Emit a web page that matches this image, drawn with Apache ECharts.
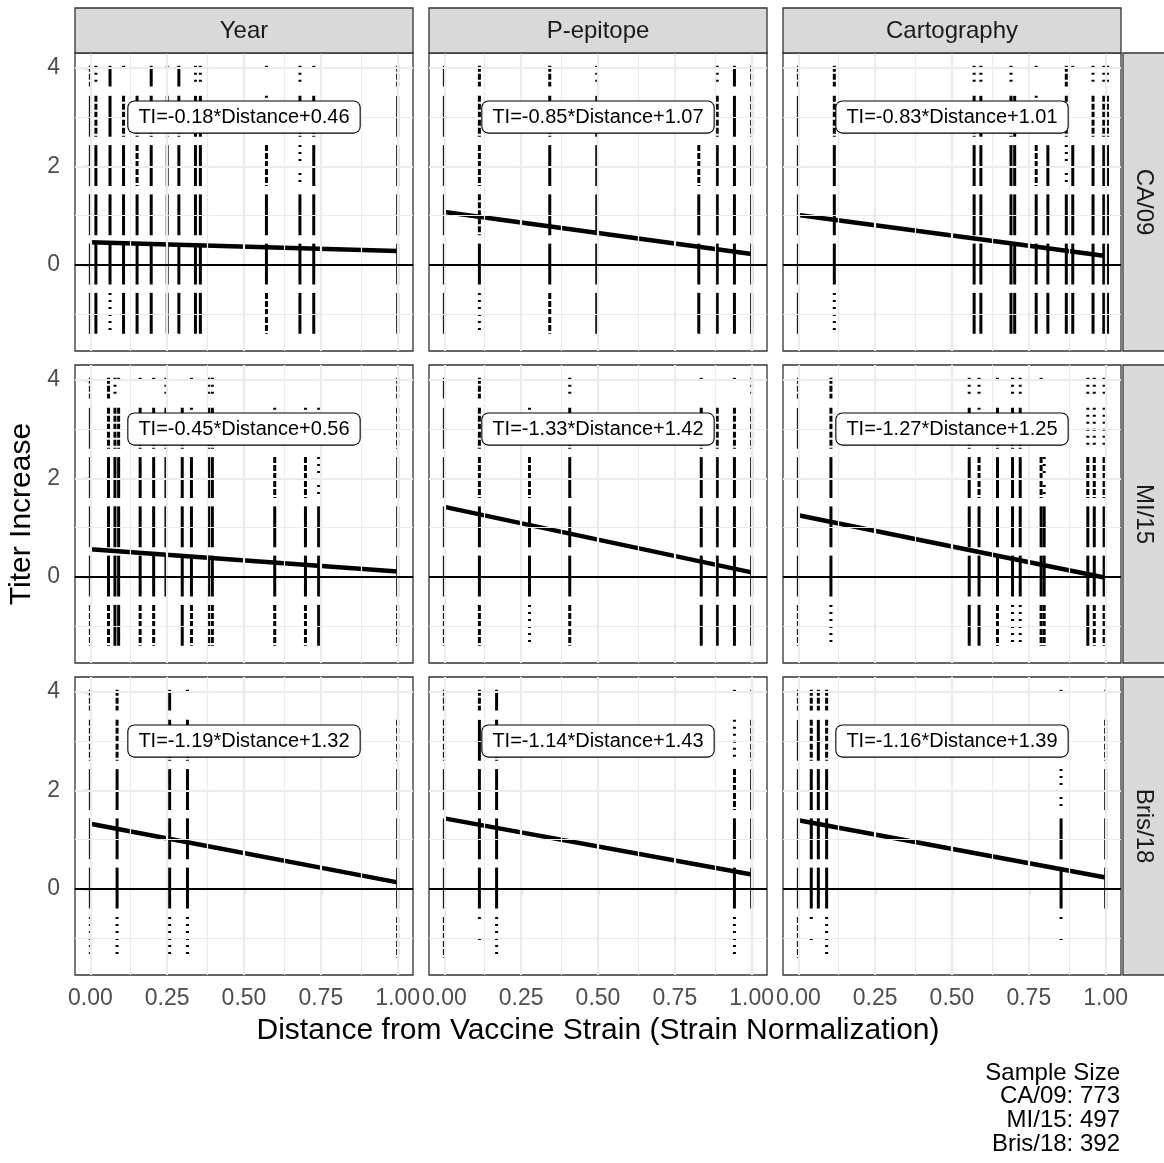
<!DOCTYPE html>
<html>
<head>
<meta charset="utf-8">
<script src="https://cdn.jsdelivr.net/npm/echarts@6/dist/echarts.min.js"></script>
<style>
  html, body { margin: 0; padding: 0; background: #fff; }
  #chart { width: 1164px; height: 1163px; }
</style>
</head>
<body>
<div id="chart"></div>
<script>
// ---- facet labels ----
const strainRows = ['CA/09', 'MI/15', 'Bris/18'];
const methodCols = ['Year', 'P-epitope', 'Cartography'];
const sampleSizes = [773, 497, 392];

// titer-increase steps, top to bottom, matching the order of the code letters below
const titerLevels = [4, 3, 2, 1, 0, -1];

// Each entry: [distance from vaccine strain, how many sera sit at each step 4..-1]
// S = dense stack, d = broken stack, o = a handful, . = one or two, - = none
const ca09Year = [
  [0.000, 'dSSSSS'], [0.018, 'odSSSS'], [0.064, 'SSSSSo'], [0.108, '.dSSSS'],
  [0.152, '-ddSSS'], [0.198, 'SdSSSS'], [0.250, '.dSSSS'], [0.288, 'SdSSSS'],
  [0.342, 'oSSSSS'], [0.358, 'oSSSSS'], [0.573, '.odSSd'], [0.682, 'odoSSS'],
  [0.727, '.dSSSS'], [1.000, 'dSSSSS']
];
const ca09Pepi = [
  [0.000, 'SSSSSS'], [0.114, 'ddddSo'], [0.343, 'ddSSSd'], [0.496, 'oSSSSS'],
  [0.828, '--dSSS'], [0.888, 'odSSSS'], [0.944, 'SSSSSS'], [1.000, 'ddSSSS']
];
const ca09Carto = [
  [0.000, 'dSSSSS'], [0.117, 'ddSSSo'], [0.572, 'odSSSS'], [0.594, 'oSSSSS'],
  [0.692, 'odSSSS'], [0.704, '-SSSSS'], [0.774, '.odSSS'], [0.812, '--SSSS'],
  [0.872, 'ddoSSS'], [0.893, '.-SSSS'], [0.959, 'odSSSS'], [0.994, 'odSSSS'],
  [1.006, 'odSSSS']
];
const mi15Year = [
  [0.000, 'dSSSSd'], [0.059, 'ddSSSd'], [0.080, 'odSSSS'], [0.092, '.dSSSS'],
  [0.162, '.dSSSd'], [0.206, '.dSSSd'], [0.246, 'odSSS-'], [0.299, '-dSSSS'],
  [0.329, '.oSSSd'], [0.385, 'odSSSd'], [0.397, 'odSSSd'], [0.600, '-odSSd'],
  [0.700, '-odSSd'], [0.743, '-.oSSS'], [1.000, 'ddSSSd']
];
const mi15Pepi = [
  [0.000, 'SSSSSd'], [0.114, 'dddSSd'], [0.277, '-.dSSo'], [0.408, 'odSSSd'],
  [0.836, '.dSSSS'], [0.888, '-dSSSS'], [0.944, '.dSSSS'], [1.000, 'odSSSS']
];
const mi15Carto = [
  [0.000, 'dSSSSd'], [0.106, 'ddSSSo'], [0.556, 'odSSSS'], [0.588, 'oodSSS'],
  [0.648, '.dSSSd'], [0.697, 'odSSSo'], [0.722, 'odSSSo'], [0.790, '.-dSSd'],
  [0.800, '--oSSd'], [0.942, 'oodSSS'], [0.963, 'oodSSd'], [0.995, 'oodSSd']
];
const bris18Year = [
  [0.000, 'ddSSSo'], [0.087, 'ddSSSo'], [0.258, 'SdSSSo'], [0.316, '.dSSSo'],
  [1.000, '-dSSSd']
];
const bris18Pepi = [
  [0.000, 'ddSSSd'], [0.114, 'dSSSS.'], [0.170, 'SdSSSo'], [0.944, '.odSSo'],
  [1.000, '.dSSS-']
];
const bris18Carto = [
  [0.000, 'dSSSSd'], [0.042, 'ddSSS.'], [0.065, 'dSSSS-'], [0.092, 'ddSSSo'],
  [0.855, '.-oSS.'], [1.000, '.dSSS-']
];

// linear fits: TI = slope * Distance + intercept
const fitSlope = [
  [-0.18, -0.85, -0.83],
  [-0.45, -1.33, -1.27],
  [-1.19, -1.14, -1.16]
];
const fitIntercept = [
  [0.46, 1.07, 1.01],
  [0.56, 1.42, 1.25],
  [1.32, 1.43, 1.39]
];
const fitRange = [0, 1];

// axis ticks
const xTicks = [0, 0.25, 0.5, 0.75, 1];
const xMinorTicks = [0.125, 0.375, 0.625, 0.875];
const yTicks = [0, 2, 4];
const yMinorTicks = [-1, 1, 3];

// ---- layout ----
const FONT = "'Liberation Sans', Arial, Helvetica, sans-serif";
const colLeft = [75, 429, 783];
const rowTop = [53, 365, 677];
const panelW = 338, panelH = 298;
const xRange = [-0.05, 1.05];
const yRange = [-1.75, 4.30];
const labelAt = [0.5, 3];

const panelColumns = [
  [ca09Year, ca09Pepi, ca09Carto],
  [mi15Year, mi15Pepi, mi15Carto],
  [bris18Year, bris18Pepi, bris18Carto]
];

// vertical extent of the jittered stack around each step
function bandOf(level) {
  return level === 4 ? [3.62, 4.04] : [level - 0.40, level + 0.43];
}
const codeStyle = { S: 1, d: 2, o: 3, '.': 4 };
const dashFor = { 1: null, 2: [6, 2], 3: [2, 5], 4: [2, 19] };

const grids = [], xAxes = [], yAxes = [], series = [];

for (let r = 0; r < 3; r++) {
  for (let c = 0; c < 3; c++) {
    const i = r * 3 + c;
    grids.push({
      left: colLeft[c], top: rowTop[r], width: panelW, height: panelH,
      show: true, borderColor: '#333333', borderWidth: 1.3,
      backgroundColor: '#ffffff', containLabel: false, outerBoundsMode: 'none'
    });
    const bottom = r === 2, left = c === 0;
    xAxes.push({
      gridIndex: i, type: 'value', min: xRange[0], max: xRange[1],
      axisLine: { show: false }, splitLine: { show: false },
      axisTick: { show: bottom, customValues: xTicks, length: 6,
        lineStyle: { color: '#333333', width: 1.3 } },
      axisLabel: { show: bottom, customValues: xTicks, margin: 12,
        formatter: v => Number(v).toFixed(2),
        fontSize: 23, color: '#4d4d4d', fontFamily: FONT }
    });
    yAxes.push({
      gridIndex: i, type: 'value', min: yRange[0], max: yRange[1],
      axisLine: { show: false }, splitLine: { show: false },
      axisTick: { show: left, customValues: yTicks, length: 6,
        lineStyle: { color: '#333333', width: 1.3 } },
      axisLabel: { show: left, customValues: yTicks, margin: 15,
        fontSize: 23, color: '#4d4d4d', fontFamily: FONT }
    });

    // background grid
    const gridLines = [];
    xMinorTicks.forEach(v => gridLines.push({ xAxis: v, lineStyle: { color: '#ebebeb', width: 1.2, type: 'solid' } }));
    yMinorTicks.forEach(v => gridLines.push({ yAxis: v, lineStyle: { color: '#ebebeb', width: 1.2, type: 'solid' } }));
    xTicks.forEach(v => gridLines.push({ xAxis: v, lineStyle: { color: '#ebebeb', width: 2.2, type: 'solid' } }));
    yTicks.forEach(v => gridLines.push({ yAxis: v, lineStyle: { color: '#ebebeb', width: 2.2, type: 'solid' } }));
    series.push({
      type: 'line', xAxisIndex: i, yAxisIndex: i, data: [], z: 1, silent: true,
      markLine: { silent: true, symbol: ['none', 'none'], label: { show: false },
        animation: false, data: gridLines }
    });

    // jittered titer stacks
    const segs = [];
    panelColumns[r][c].forEach(([dist, codes]) => {
      titerLevels.forEach((lv, k) => {
        const s = codeStyle[codes[k]];
        if (!s) return;
        const b = bandOf(lv);
        segs.push([dist, b[0], b[1], s]);
      });
    });
    series.push({
      type: 'custom', xAxisIndex: i, yAxisIndex: i, z: 2, silent: true,
      encode: { x: 0, y: [1, 2] }, clip: true,
      data: segs,
      renderItem: (params, api) => {
        const x = api.value(0), lo = api.value(1), hi = api.value(2), s = api.value(3);
        const p1 = api.coord([x, hi]), p2 = api.coord([x, lo]);
        return {
          type: 'line',
          shape: { x1: p1[0], y1: p1[1], x2: p2[0], y2: p2[1] },
          style: { stroke: '#000000', lineWidth: 3, lineDash: dashFor[s] }
        };
      }
    });

    // zero reference line
    series.push({
      type: 'line', xAxisIndex: i, yAxisIndex: i, data: [], z: 3, silent: true,
      markLine: { silent: true, symbol: ['none', 'none'], label: { show: false },
        animation: false,
        data: [{ yAxis: 0, lineStyle: { color: '#000000', width: 1.8, type: 'solid' } }] }
    });

    // fitted line
    const a = fitIntercept[r][c], b = fitSlope[r][c];
    series.push({
      type: 'line', xAxisIndex: i, yAxisIndex: i, z: 4, silent: true,
      symbol: 'none', lineStyle: { color: '#000000', width: 4.5 },
      data: fitRange.map(x => [x, a + b * x])
    });

    // equation label, boxed on top of everything in the panel
    const eq = 'TI=' + b.toFixed(2) + '*Distance+' + a.toFixed(2);
    series.push({
      type: 'custom', xAxisIndex: i, yAxisIndex: i, z: 6, silent: true,
      encode: { x: 0, y: 1 },
      data: [labelAt],
      renderItem: (params, api) => {
        const p = api.coord([api.value(0), api.value(1)]);
        return {
          type: 'text', x: p[0], y: p[1], z2: 10,
          style: {
            text: eq, font: '20px ' + FONT, fill: '#000000',
            align: 'center', verticalAlign: 'middle',
            backgroundColor: '#ffffff', borderColor: '#000000', borderWidth: 1.1,
            borderRadius: 6, padding: [6, 10, 5, 10]
          }
        };
      }
    });
  }
}

// strips, titles, caption
const graphics = [];
methodCols.forEach((name, c) => {
  graphics.push({
    type: 'rect', shape: { x: colLeft[c], y: 8, width: panelW, height: 45 },
    style: { fill: '#d9d9d9', stroke: '#333333', lineWidth: 1.3 }, z: 10
  });
  graphics.push({
    type: 'text', x: colLeft[c] + panelW / 2, y: 31, z: 11,
    style: { text: name, font: '24px ' + FONT, fill: '#1a1a1a', align: 'center', verticalAlign: 'middle' }
  });
});
strainRows.forEach((name, r) => {
  graphics.push({
    type: 'rect', shape: { x: 1123, y: rowTop[r], width: 45, height: panelH },
    style: { fill: '#d9d9d9', stroke: '#333333', lineWidth: 1.3 }, z: 10
  });
  graphics.push({
    type: 'text', x: 1144, y: rowTop[r] + panelH / 2, rotation: -Math.PI / 2, z: 11,
    style: { text: name, font: '24px ' + FONT, fill: '#1a1a1a', align: 'center', verticalAlign: 'middle' }
  });
});
graphics.push({
  type: 'text', x: 598, y: 1031, z: 11,
  style: { text: 'Distance from Vaccine Strain (Strain Normalization)', font: '30px ' + FONT,
    fill: '#000000', align: 'center', verticalAlign: 'middle' }
});
graphics.push({
  type: 'text', x: 22, y: 514, rotation: Math.PI / 2, z: 11,
  style: { text: 'Titer Increase', font: '30px ' + FONT, fill: '#000000', align: 'center', verticalAlign: 'middle' }
});
const captionLines = ['Sample Size'].concat(strainRows.map((s, r) => s + ': ' + sampleSizes[r]));
captionLines.forEach((t, k) => {
  graphics.push({
    type: 'text', x: 1120, y: 1073 + k * 23.7, z: 11,
    style: { text: t, font: '24px ' + FONT, fill: '#000000', align: 'right', verticalAlign: 'middle' }
  });
});

const chart = echarts.init(document.getElementById('chart'), null, { renderer: 'canvas' });
chart.setOption({
  animation: false,
  backgroundColor: '#ffffff',
  grid: grids, xAxis: xAxes, yAxis: yAxes, series: series,
  graphic: graphics
});
</script>
</body>
</html>
